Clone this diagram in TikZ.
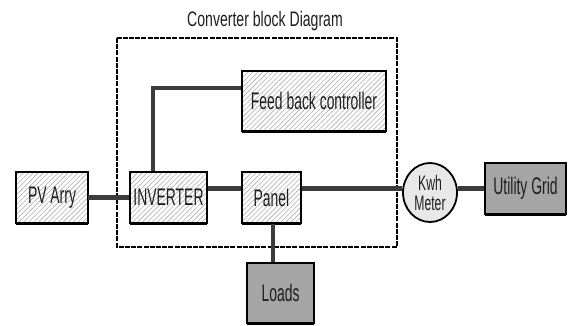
\documentclass[tikz,border=0pt]{standalone}
\usepackage{fontspec}
\setmainfont{Liberation Sans}[FakeStretch=0.58]
\newfontfamily\titlefont{Liberation Sans}[FakeStretch=0.67]
\usepackage{tikz}
\usetikzlibrary{
	shapes.geometric, calc, shadows, patterns.meta
}
\definecolor{cvtline}  {RGB}{ 60,  60,  60}
\definecolor{cvthatch} {RGB}{175, 175, 175}
\definecolor{cvtgrid}  {RGB}{165, 165, 165}
\definecolor{cvtmeter} {RGB}{232, 232, 232}
\definecolor{cvtink}   {RGB}{ 30,  30,  30}

\begin{document}
\begin{tikzpicture}[x=1pt,y=-1pt,
		hatchbox/.style={rectangle,draw=black,line width=1.8pt,inner sep=0pt,
			drop shadow={shadow xshift=0pt,shadow yshift=-1.6pt,fill=black,opacity=1},
			preaction={fill=white},
			pattern={Lines[angle=45,distance=3.5pt,line width=0.6pt]},pattern color=cvthatch,
			font=\fontsize{24}{26}\selectfont,text=cvtink},
		greybox/.style={rectangle,draw=black,line width=2.2pt,fill=cvtgrid,inner sep=0pt,
			drop shadow={shadow xshift=0pt,shadow yshift=-2.4pt,fill=black,opacity=1},
			font=\fontsize{24}{26}\selectfont,text=cvtink},
		bus/.style={draw=cvtline,line width=4.6pt}
	]
	\useasboundingbox (0,0) rectangle (569,325);
	\draw[line width=1.2pt,dash pattern=on 5pt off 1.2pt] (117,38) rectangle (397,247);
	\node[font=\titlefont\fontsize{21}{23}\selectfont,text=cvtink] (title) at (265,21) {Converter block Diagram};
	\node[hatchbox,minimum width=72pt,minimum height=51pt] (PV) at (52,197.5) {PV Arry};
	\node[hatchbox,minimum width=77pt,minimum height=51pt] (INV) at (168.5,197.5) {INVERTER};
	\node[hatchbox,minimum width=59pt,minimum height=51pt] (Panel) at (271.5,197.5) {Panel};
	\node[hatchbox,minimum width=144pt,minimum height=60pt] (FB) at (314,101) {Feed back controller};
	\node[ellipse,draw=black,line width=1.8pt,fill=cvtmeter,minimum width=54pt,minimum height=59pt,inner sep=0pt,
		align=center,font=\fontsize{21}{20}\selectfont,text=cvtink] (Meter) at (430,192.5) {Kwh\\Meter};
	\node[greybox,minimum width=81pt,minimum height=51pt] (Grid) at (525.5,188.5) {Utility Grid};
	\node[greybox,minimum width=67pt,minimum height=60pt] (Loads) at (280.5,293) {Loads};
	\draw[bus] (PV) -- (INV);
	\draw[bus] (INV.east |- Grid) -- (Panel.west |- Grid);
	\draw[bus] (Panel.east |- Grid) -- (Meter.west |- Grid);
	\draw[bus] (Meter.east |- Grid) -- (Grid.west);
	\draw[bus,line width=4pt] ([yshift=13pt]FB.west) -| ([xshift=-15.5pt]INV.north);
	\draw[bus,line width=4pt] ([xshift=1.5pt]Panel.south) -- ([xshift=1.5pt]Panel.south |- Loads.north);
\end{tikzpicture}
\end{document}
